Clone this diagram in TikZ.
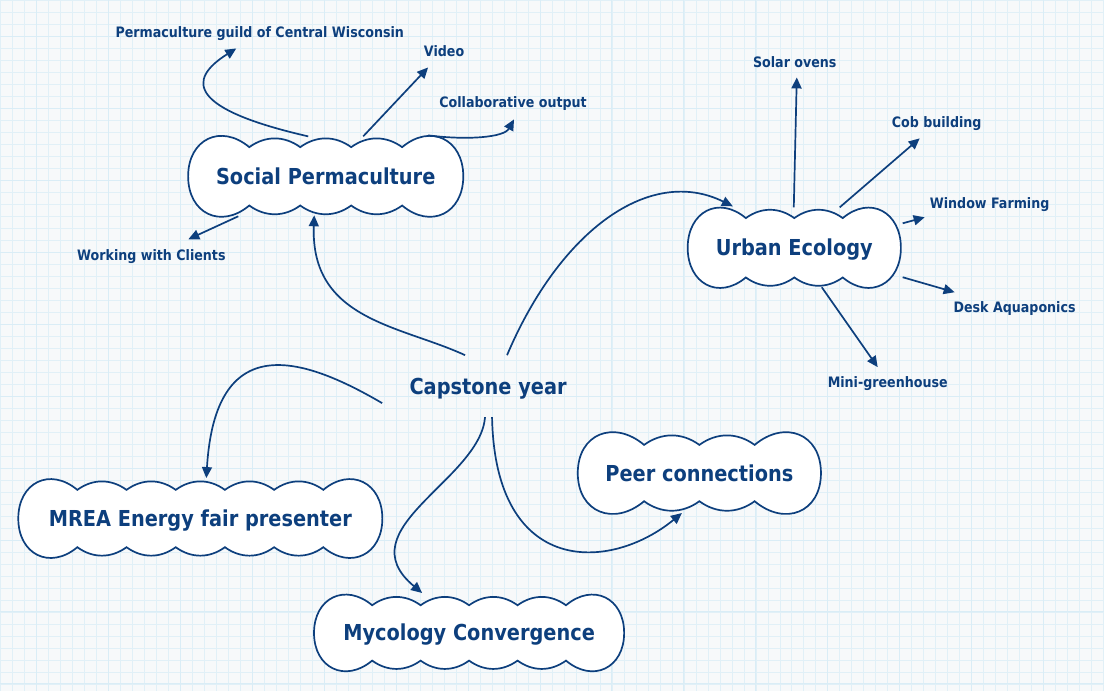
\documentclass[tikz,border=0pt]{standalone}
\usepackage{fontspec}
\newfontfamily\mapfont{DejaVu Sans}[FakeStretch=0.88]
\usetikzlibrary{arrows.meta,calc}
\definecolor{ink}{HTML}{0D3F7D}
\definecolor{paper}{HTML}{F7F9FA}
\definecolor{gridminor}{HTML}{E1F0F7}
\definecolor{gridmajor}{HTML}{DAEDF6}
\pgfdeclarelayer{back}
\pgfsetlayers{back,main}

% scalloped outline round a named node, #2 bumps on each long side
\newcommand\puffs[2]{%
  \begin{pgfonlayer}{back}
  \draw[puff] let \p1=(#1.north west), \p2=(#1.south east),
      \n1={(\x2-\x1)/(#2+2.4)}, \n2={(\y1+\y2)/2} in
    (\x1+1.2*\n1,\y1)
    \foreach \k in {1,...,#2} { to[bend left=36] ++(\n1,0) }
    to[out=40,in=90,looseness=1.4] (\x2,\n2)
    to[out=-90,in=-40,looseness=1.4] (\x2-1.2*\n1,\y2)
    \foreach \k in {1,...,#2} { to[bend left=36] ++(-\n1,0) }
    to[out=-140,in=-90,looseness=1.4] (\x1,\n2)
    to[out=90,in=140,looseness=1.4] (\x1+1.2*\n1,\y1) -- cycle ;
  \end{pgfonlayer}}

\begin{document}
\begin{tikzpicture}[x=1pt,y=1pt]
   \tikzstyle{idea}=[font=\mapfont\bfseries\fontsize{22}{26}\selectfont,text=ink,inner sep=0pt,minimum height=57pt,text height=16pt,text depth=0pt]
   \tikzstyle{leaf}=[font=\mapfont\bfseries\fontsize{14.4}{17}\selectfont,text=ink,inner sep=0pt,text height=10.5pt,text depth=0pt]
   \tikzstyle{arrow}=[draw=ink,line width=1.7pt,-{Triangle[length=11pt,width=10pt]}]
   \tikzstyle{puff}=[draw=ink,line width=1.7pt,fill=white]
   % squared paper
   \begin{pgfonlayer}{back}
   \fill[paper] (0,0) rectangle (1104,-691) ;
   \draw[gridminor,line width=0.6pt] (0,-691) grid[step=12pt] (1104,0) ;
   \foreach \g in {36,108,...,1080} \draw[gridmajor,line width=1pt] (\g,0) -- (\g,-691) ;
   \foreach \g in {36,108,...,684} \draw[gridmajor,line width=1pt] (0,-\g) -- (1104,-\g) ;
   \end{pgfonlayer}
   \useasboundingbox (0,0) rectangle (1104,-691) ;
   % clouds
   \node (soc) [idea,minimum width=275pt,minimum height=58pt] at (325.5,-176) {Social Permaculture} ;
   \node (urb) [idea,minimum width=213pt,minimum height=59pt] at (794.5,-247.5) {Urban Ecology} ;
   \node (peer) [idea,minimum width=243pt,minimum height=56pt] at (699.5,-473) {Peer connections} ;
   \node (myc) [idea,minimum width=310pt,minimum height=55pt] at (469,-633) {Mycology Convergence} ;
   \node (mrea) [idea,minimum width=364pt] at (200,-518.5) {MREA Energy fair presenter} ;
   \node (cap) [idea] at (488,-386) {Capstone year} ;
   \puffs{soc}{3} \puffs{urb}{2} \puffs{peer}{2} \puffs{myc}{4} \puffs{mrea}{5}
   % small labels
   \node (guild) [leaf] at (259.5,-32) {Permaculture guild of Central Wisconsin} ;
   \node (video) [leaf] at (444,-51) {Video} ;
   \node (collab) [leaf] at (513,-102) {Collaborative output} ;
   \node (clients) [leaf] at (151,-255) {Working with Clients} ;
   \node (solar) [leaf] at (795,-62) {Solar ovens} ;
   \node (cob) [leaf] at (937,-122) {Cob building} ;
   \node (window) [leaf] at (990,-203) {Window Farming} ;
   \node (desk) [leaf] at (1015,-307) {Desk Aquaponics} ;
   \node (mini) [leaf] at (888,-382) {Mini-greenhouse} ;
   % capstone links
   \path [arrow] ([shift={(-23,31)}]cap.center) .. controls +(-65,30) and +(-4,-105) .. ([shift={(-11.5,-39)}]soc.center) ;
   \path [arrow] ([shift={(-106,-17)}]cap.center) .. controls +(-82,48) and +(9,148) .. ([shift={(6,40.5)}]mrea.center) ;
   \path [arrow] ([shift={(19,31)}]cap.center) .. controls +(53,125) and +(-83,41) .. ([shift={(-61.5,41.5)}]urb.center) ;
   \path [arrow] ([shift={(-3,-31)}]cap.center) .. controls +(-5,-63) and +(-77,64) .. ([shift={(-47,40)}]myc.center) ;
   \path [arrow] ([shift={(4,-31)}]cap.center) .. controls +(3,-160) and +(-72,-59) .. ([shift={(-17.5,-40)}]peer.center) ;
   % social permaculture
   \path [arrow] ([shift={(-17.5,40)}]soc.center) .. controls +(-118,27) and +(-51,-32) .. ([shift={(-23.5,-16)}]guild.center) ;
   \path [arrow] ([shift={(37.5,40)}]soc.center) -- ([shift={(-16,-16)}]video.center) ;
   \path [arrow] ([shift={(102.5,41)}]soc.center) .. controls +(40,-5) and +(-10,-18) .. ([shift={(1,-17)}]collab.center) ;
   \path [arrow] ([shift={(-87.5,-40)}]soc.center) -- ([shift={(37,16)}]clients.center) ;
   % urban ecology
   \path [arrow] ([shift={(-0.5,40.5)}]urb.center) -- ([shift={(2,-15)}]solar.center) ;
   \path [arrow] ([shift={(45.5,40.5)}]urb.center) -- ([shift={(-17,-16)}]cob.center) ;
   \path [arrow] ([shift={(108.5,24.5)}]urb.center) -- ([shift={(-65,-14)}]window.center) ;
   \path [arrow] ([shift={(108.5,-29.5)}]urb.center) -- ([shift={(-60,15)}]desk.center) ;
   \path [arrow] ([shift={(27.5,-39.5)}]urb.center) -- ([shift={(-10,15)}]mini.center) ;
\end{tikzpicture}
\end{document}
